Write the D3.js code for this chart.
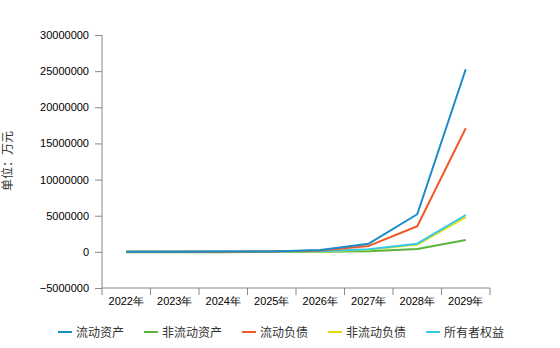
<!DOCTYPE html>
<html><head><meta charset="utf-8">
<script src="https://cdn.jsdelivr.net/npm/d3@7/dist/d3.min.js"></script>
<style>
body{margin:0;background:#fff;}
svg{display:block;font-family:"Liberation Sans","Noto Sans CJK SC",sans-serif;}
</style></head>
<body><svg id="c" width="560" height="348"></svg>
<script>
const years = ["2022年","2023年","2024年","2025年","2026年","2027年","2028年","2029年"];
const seriesNames = ["流动资产","非流动资产","流动负债","非流动负债","所有者权益"];
const seriesColors = ["#1a8cc8","#5ab43c","#f05a28","#dede0c","#36c8ea"];
const liuDongZiChan   = [20000, 30000, 40000, 60000, 250000, 1130000, 5200000, 25260000];
const feiLiuDongZiChan= [-60000, -50000, -40000, -30000, 20000, 100000, 400000, 1650000];
const liuDongFuZhai   = [10000, 20000, 30000, 50000, 200000, 820000, 3540000, 17100000];
const feiLiuDongFuZhai= [0, 5000, 10000, 15000, 50000, 300000, 1000000, 4800000];
const suoYouZheQuanYi = [30000, 35000, 40000, 50000, 80000, 360000, 1130000, 5100000];
const yTicks = [-5000000, 0, 5000000, 10000000, 15000000, 20000000, 25000000, 30000000];
const allSeries = [liuDongZiChan, feiLiuDongZiChan, liuDongFuZhai, feiLiuDongFuZhai, suoYouZheQuanYi];

const svg = d3.select("#c");
const x = d3.scaleBand().domain(years).range([102, 490]);
const y = d3.scaleLinear().domain([-5000000, 30000000]).range([288, 35]);
const axisColor = "#888";

const gx = svg.append("g").attr("transform","translate(0,288)")
  .call(d3.axisBottom(x).tickSize(0).tickPadding(9));
gx.select(".domain").attr("stroke",axisColor).attr("d","M102,0H490");
gx.selectAll("text").attr("font-size",11).attr("fill","#000");
// tick marks at band boundaries
svg.append("g").selectAll("line").data(d3.range(years.length+1)).join("line")
  .attr("x1",i=>102+i*x.step()).attr("x2",i=>102+i*x.step())
  .attr("y1",288).attr("y2",295).attr("stroke",axisColor);

const gy = svg.append("g").attr("transform","translate(102,0)")
  .call(d3.axisLeft(y).tickValues(yTicks).tickSize(7).tickPadding(6).tickFormat(d3.format("d")));
gy.select(".domain").attr("stroke",axisColor).attr("d","M0,35V288");
gy.selectAll(".tick line").attr("stroke",axisColor);
gy.selectAll("text").attr("font-size",11).attr("fill","#000");

svg.append("text").attr("transform","translate(12,161) rotate(-90)")
  .attr("text-anchor","middle").attr("font-size",12).attr("fill","#333").text("单位：万元");

const line = d3.line().x((d,i)=>x(years[i])+x.bandwidth()/2).y(d=>y(d));
const order = [1,3,4,2,0];
order.forEach(k=>{
  svg.append("path").attr("d",line(allSeries[k])).attr("fill","none")
    .attr("stroke",seriesColors[k]).attr("stroke-width",2).attr("stroke-linejoin","round");
});

// legend
const lg = svg.append("g");
let lx = 58;
seriesNames.forEach((n,i)=>{
  lg.append("line").attr("x1",lx).attr("x2",lx+14).attr("y1",332).attr("y2",332)
    .attr("stroke",seriesColors[i]).attr("stroke-width",2);
  const t = lg.append("text").attr("x",lx+18).attr("y",336.5).attr("font-size",12)
    .attr("fill","#333").text(n);
  const w = t.node().getComputedTextLength();
  lx = lx + 18 + w + 20;
});
</script></body></html>
